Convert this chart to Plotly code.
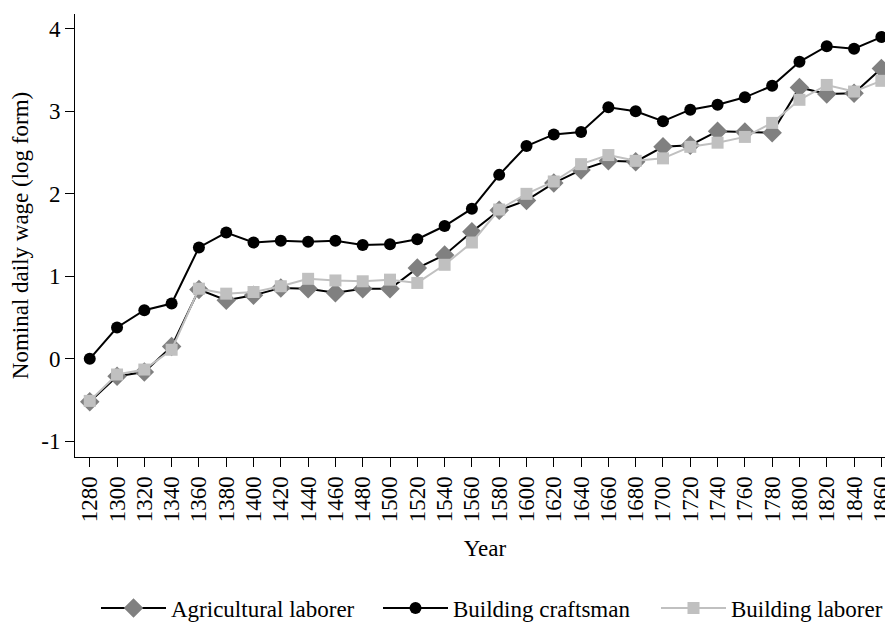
import plotly.graph_objects as go

YEARS = list(range(1280, 1861, 20))

AGRI = [-0.52, -0.21, -0.16, 0.15, 0.84, 0.71, 0.77, 0.86, 0.85, 0.80,
        0.85, 0.85, 1.10, 1.26, 1.54, 1.80, 1.92, 2.13, 2.29, 2.40,
        2.39, 2.57, 2.59, 2.76, 2.75, 2.74, 3.29, 3.21, 3.22, 3.52]
CRAFT = [0.00, 0.38, 0.59, 0.67, 1.35, 1.53, 1.41, 1.43, 1.42, 1.43,
         1.38, 1.39, 1.45, 1.61, 1.82, 2.23, 2.58, 2.72, 2.75, 3.05,
         3.00, 2.88, 3.02, 3.08, 3.17, 3.31, 3.60, 3.79, 3.76, 3.90]
BLAB = [-0.51, -0.19, -0.13, 0.11, 0.85, 0.79, 0.81, 0.88, 0.97, 0.95,
        0.94, 0.96, 0.92, 1.14, 1.41, 1.81, 2.00, 2.15, 2.36, 2.47,
        2.40, 2.43, 2.57, 2.62, 2.69, 2.86, 3.14, 3.32, 3.24, 3.37]

Y_TICKS = [-1, 0, 1, 2, 3, 4]

INK = "#000000"
DARK_GRAY = "#808080"
LIGHT_GRAY = "#c0c0c0"
FONT = dict(family="Liberation Serif, Times New Roman, serif", color=INK, size=23)

fig = go.Figure()
fig.add_trace(go.Scatter(
    x=YEARS, y=AGRI, mode="lines+markers", name="Agricultural laborer",
    line=dict(color=INK, width=2),
    marker=dict(symbol="diamond", size=15, color=DARK_GRAY),
    legendwidth=202,
))
fig.add_trace(go.Scatter(
    x=YEARS, y=CRAFT, mode="lines+markers", name="Building craftsman",
    line=dict(color=INK, width=2),
    marker=dict(symbol="circle", size=12, color=INK),
    legendwidth=198,
))
fig.add_trace(go.Scatter(
    x=YEARS, y=BLAB, mode="lines+markers", name="Building laborer",
    line=dict(color=LIGHT_GRAY, width=2),
    marker=dict(symbol="square", size=12, color=LIGHT_GRAY),
    legendwidth=150,
))

axis_common = dict(
    showgrid=False, zeroline=False, showline=True, linecolor=INK, linewidth=1,
    ticks="outside", ticklen=9, tickcolor=INK, tickwidth=1,
    tickfont=dict(size=23, color=INK), automargin=False,
)

fig.update_layout(
    template="none",
    width=893, height=628,
    paper_bgcolor="white", plot_bgcolor="white",
    font=FONT,
    margin=dict(l=67, r=6, t=6, b=179),
    xaxis=dict(
        **axis_common,
        range=[1269.2, 1870],
        tickmode="array", tickvals=YEARS, ticktext=[str(y) for y in YEARS],
        tickangle=-90,
        title=dict(text="Year", font=dict(size=23), standoff=18),
    ),
    yaxis=dict(
        **axis_common,
        range=[-1.19, 4.18],
        tickmode="array", tickvals=Y_TICKS, ticktext=[str(v) for v in Y_TICKS],
        title=dict(text="Nominal daily wage (log form)", font=dict(size=23), standoff=6),
    ),
    legend=dict(
        orientation="h", xref="container", x=88 / 893, xanchor="left",
        yref="container", y=1 - 600 / 628, yanchor="middle",
        font=dict(size=23), itemwidth=65, tracegroupgap=0,
        bgcolor="rgba(0,0,0,0)",
    ),
)

fig.write_html("out.html")
